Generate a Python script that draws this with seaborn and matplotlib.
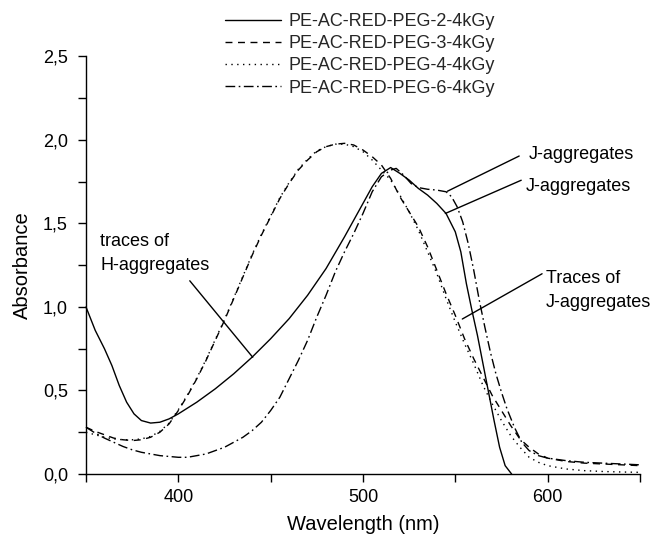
import numpy as np
import pandas as pd
import matplotlib
matplotlib.use("Agg")
import matplotlib.pyplot as plt
from matplotlib.ticker import FixedLocator, FuncFormatter
from matplotlib.lines import Line2D
import seaborn as sns

# ---------------- data ----------------
series_names = ["PE-AC-RED-PEG-2-4kGy", "PE-AC-RED-PEG-3-4kGy",
                "PE-AC-RED-PEG-4-4kGy", "PE-AC-RED-PEG-6-4kGy"]

wl_peg2 = [350, 355, 360, 364, 368, 372, 376, 380, 385, 390, 395, 400, 410, 420,
           430, 440, 450, 460, 470, 480, 490, 500, 505, 510, 515, 520, 525, 530,
           535, 540, 545, 550, 553, 556, 559, 562, 565, 568, 571, 574, 577, 580.5]
abs_peg2 = [1.00, 0.86, 0.75, 0.65, 0.53, 0.43, 0.36, 0.32, 0.305, 0.31, 0.33, 0.36,
            0.43, 0.51, 0.60, 0.70, 0.81, 0.93, 1.07, 1.23, 1.42, 1.62, 1.72, 1.80,
            1.835, 1.80, 1.76, 1.71, 1.67, 1.62, 1.56, 1.45, 1.33, 1.14, 0.98, 0.83,
            0.66, 0.49, 0.32, 0.16, 0.05, 0.0]

wl_peg3 = [350, 355, 360, 365, 370, 375, 380, 385, 390, 395, 400, 405, 410, 415,
           420, 425, 430, 435, 440, 445, 450, 455, 460, 465, 470, 475, 480, 485,
           490, 495, 500, 505, 510, 515, 520, 525, 530, 535, 540, 545, 550, 555,
           560, 565, 570, 575, 580, 585, 590, 595, 600, 610, 620, 630, 640, 650]
abs_peg3 = [0.28, 0.255, 0.235, 0.215, 0.205, 0.20, 0.205, 0.22, 0.25, 0.30, 0.38,
            0.47, 0.57, 0.68, 0.80, 0.92, 1.05, 1.18, 1.31, 1.43, 1.54, 1.65, 1.74,
            1.82, 1.88, 1.93, 1.96, 1.975, 1.98, 1.97, 1.94, 1.90, 1.85, 1.77, 1.66,
            1.57, 1.48, 1.36, 1.22, 1.08, 0.95, 0.81, 0.69, 0.58, 0.47, 0.38, 0.29,
            0.21, 0.16, 0.12, 0.095, 0.075, 0.065, 0.06, 0.055, 0.05]

wl_peg4 = wl_peg3
abs_peg4 = [0.25, 0.235, 0.22, 0.21, 0.205, 0.205, 0.21, 0.225, 0.255, 0.305, 0.385,
            0.475, 0.575, 0.685, 0.805, 0.925, 1.055, 1.185, 1.315, 1.435, 1.545,
            1.655, 1.745, 1.825, 1.885, 1.935, 1.96, 1.975, 1.975, 1.96, 1.93, 1.88,
            1.82, 1.76, 1.67, 1.57, 1.46, 1.33, 1.20, 1.05, 0.91, 0.78, 0.66, 0.53,
            0.42, 0.32, 0.23, 0.16, 0.10, 0.07, 0.05, 0.03, 0.02, 0.015, 0.012, 0.01]

wl_peg6 = [350, 355, 360, 365, 370, 375, 380, 385, 390, 395, 400, 405, 410, 415,
           420, 425, 430, 435, 440, 445, 450, 455, 460, 465, 470, 475, 480, 485,
           490, 495, 500, 505, 510, 515, 518, 522, 526, 530, 535, 540, 545, 548,
           551, 554, 557, 560, 563, 566, 569, 572, 575, 578, 582, 586, 590, 595,
           600, 610, 620, 630, 640, 650]
abs_peg6 = [0.28, 0.245, 0.215, 0.19, 0.165, 0.145, 0.13, 0.12, 0.11, 0.105, 0.10,
            0.10, 0.11, 0.12, 0.14, 0.16, 0.19, 0.22, 0.26, 0.31, 0.38, 0.46, 0.57,
            0.68, 0.80, 0.94, 1.07, 1.21, 1.33, 1.44, 1.56, 1.69, 1.78, 1.82, 1.83,
            1.79, 1.74, 1.715, 1.705, 1.70, 1.69, 1.66, 1.60, 1.51, 1.38, 1.22, 1.04,
            0.88, 0.73, 0.60, 0.49, 0.39, 0.28, 0.19, 0.14, 0.11, 0.095, 0.08, 0.07,
            0.065, 0.06, 0.055]

x_major = [400, 500, 600]
x_minor = [350, 450, 550, 650]
y_major = [0.0, 0.5, 1.0, 1.5, 2.0, 2.5]
y_minor = [0.25, 0.75, 1.25, 1.75, 2.25]

# ---------------- style ----------------
sns.set_style("ticks")
plt.rcParams["font.family"] = ["Liberation Sans", "DejaVu Sans"]

fig = plt.figure(figsize=(6.54, 5.39), dpi=100)
ax = fig.add_axes([0.1315, 0.1206, 0.847, 0.7746])

styles = ["-", (0, (5, 4)), (0, (1, 3.2)), (0, (7, 2.5, 1.2, 2.5))]
all_wl = [wl_peg2, wl_peg3, wl_peg4, wl_peg6]
all_abs = [abs_peg2, abs_peg3, abs_peg4, abs_peg6]

for name, wl, ab, ls in zip(series_names, all_wl, all_abs, styles):
    df = pd.DataFrame({"wl": wl, "A": ab})
    sns.lineplot(data=df, x="wl", y="A", ax=ax, color="black", lw=1.0,
                 linestyle=ls, label=name, legend=False, clip_on=False)

ax.set_xlim(350, 650)
ax.set_ylim(0, 2.5)
ax.xaxis.set_major_locator(FixedLocator(x_major))
ax.xaxis.set_minor_locator(FixedLocator(x_minor))
ax.yaxis.set_major_locator(FixedLocator(y_major))
ax.yaxis.set_minor_locator(FixedLocator(y_minor))
ax.yaxis.set_major_formatter(FuncFormatter(lambda v, p: f"{v:.1f}".replace(".", ",")))
ax.tick_params(which="both", direction="out", length=6, width=1, color="black",
               labelsize=13, labelcolor="black")
ax.tick_params(axis="x", which="both", pad=5)
ax.tick_params(axis="y", which="both", pad=7)

for s in ["top", "right"]:
    ax.spines[s].set_visible(False)
for s in ["left", "bottom"]:
    ax.spines[s].set_color("black")
    ax.spines[s].set_linewidth(1.0)

ax.set_xlabel("Wavelength (nm)", fontsize=14.5, color="black", labelpad=6)
ax.set_ylabel("Absorbance", fontsize=14.5, color="black", labelpad=8)

# legend
handles = [Line2D([], [], color="black", lw=1.0, linestyle=ls) for ls in styles]
leg = fig.legend(handles, series_names, loc="upper left",
                 bbox_to_anchor=(225 / 654, 1 - 13 / 539), frameon=False,
                 fontsize=13, handlelength=3.1, handletextpad=0.4,
                 labelspacing=0.29, borderaxespad=0, borderpad=0)

# annotations
tk = dict(fontsize=13, color="black", clip_on=False)
ax.text(357.6, 1.32, "traces of\nH-aggregates", va="center", ha="left",
        linespacing=1.55, **tk)
ax.plot([406.2, 440.3], [1.157, 0.699], color="black", lw=1.0, clip_on=False)

ax.text(590.0, 1.914, "J-aggregates", va="center", ha="left", **tk)
ax.plot([584.6, 545.7], [1.904, 1.693], color="black", lw=1.0, clip_on=False)

ax.text(588.4, 1.721, "J-aggregates", va="center", ha="left", **tk)
ax.plot([585.7, 544.6], [1.759, 1.560], color="black", lw=1.0, clip_on=False)

ax.text(599.0, 1.10, "Traces of\nJ-aggregates", va="center", ha="left",
        linespacing=1.55, **tk)
ax.plot([597.0, 553.8], [1.199, 0.928], color="black", lw=1.0, clip_on=False)

fig.savefig("out.png", dpi=100)
